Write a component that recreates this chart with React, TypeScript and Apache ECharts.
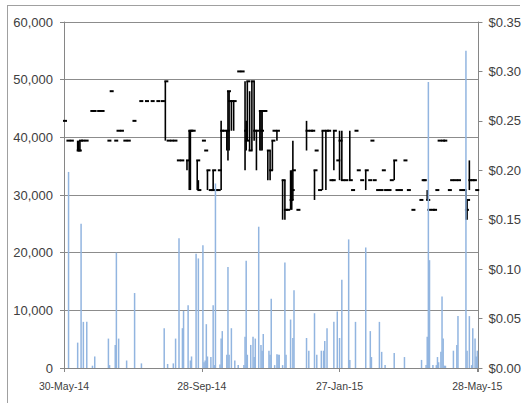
import React, { useEffect, useRef } from "react";
import * as echarts from "echarts";

// x tick labels (every 121 days from 30-May-14)
const xTickLabels = ["30-May-14", "28-Sep-14", "27-Jan-15", "28-May-15"];
const xTickStep = 121;
const xMaxDay = 364;

// Volume: [day offset from 30-May-14, shares]
const volume: [number, number][] = [
  [4, 34000], [12, 4400], [15, 25000], [17, 8000], [20, 8000], [25, 400], [27, 2000],
  [39, 5100], [40, 500], [45, 4000], [46, 20000], [48, 5100], [55, 1300], [62, 13000],
  [68, 800], [88, 6900], [91, 700], [96, 800], [98, 5100], [101, 22500], [104, 6900],
  [105, 9900], [109, 10900], [111, 1300], [112, 2000], [116, 19800], [118, 19000],
  [122, 21300], [123, 1000], [124, 1300], [125, 7600], [126, 2000], [129, 1900],
  [131, 10900], [132, 500], [133, 32000], [137, 600], [138, 5100], [139, 6400],
  [143, 2300], [144, 17500], [145, 2300], [147, 6900], [150, 1300], [153, 500],
  [158, 500], [159, 5400], [160, 18600], [161, 2300], [164, 4000], [166, 5400],
  [167, 1900], [168, 5100], [171, 24500], [173, 4000], [174, 3000], [175, 5900],
  [180, 3000], [181, 2300], [182, 12000], [185, 500], [187, 2400], [188, 2300],
  [189, 2300], [192, 500], [194, 18300], [195, 2300], [199, 8400], [201, 5200],
  [202, 13500], [213, 5200], [215, 3000], [220, 9500], [222, 2300], [226, 3000],
  [228, 3000], [229, 4700], [231, 6900], [237, 8000], [240, 9800], [242, 5200],
  [244, 15300], [250, 22300], [251, 1400], [256, 8000], [265, 20900], [269, 6400],
  [270, 1900], [277, 8000], [279, 2800], [282, 500], [290, 2600], [299, 1900],
  [314, 1400], [318, 500], [319, 5400], [320, 49600], [321, 18700], [324, 500],
  [327, 500], [328, 1900], [329, 1000], [331, 2800], [332, 12400], [333, 5100],
  [334, 400], [335, 400], [342, 3000], [345, 4000], [346, 9000], [353, 55000],
  [354, 3000], [356, 9000], [358, 500], [359, 6900], [361, 5100], [362, 2000],
  [363, 3000],
];

// Price: [day, high, low, close] in $
const priceHLC: [number, number, number, number][] = [
  [0, 0.25, 0.25, 0.25], [3, 0.23, 0.23, 0.23], [6, 0.23, 0.23, 0.23],
  [12, 0.23, 0.22, 0.22], [13, 0.23, 0.22, 0.22], [14, 0.23, 0.22, 0.23],
  [16, 0.23, 0.23, 0.23], [19, 0.23, 0.23, 0.23],
  [24, 0.26, 0.26, 0.26], [26, 0.26, 0.26, 0.26], [30, 0.26, 0.26, 0.26], [33, 0.26, 0.26, 0.26],
  [39, 0.23, 0.23, 0.23], [41, 0.28, 0.28, 0.28], [45, 0.23, 0.23, 0.23],
  [47, 0.24, 0.24, 0.24], [50, 0.24, 0.24, 0.24], [53, 0.23, 0.23, 0.23], [56, 0.23, 0.23, 0.23],
  [61, 0.25, 0.25, 0.25],
  [67, 0.27, 0.27, 0.27], [72, 0.27, 0.27, 0.27], [77, 0.27, 0.27, 0.27], [82, 0.27, 0.27, 0.27], [86, 0.27, 0.27, 0.27],
  [89, 0.29, 0.23, 0.29],
  [91, 0.23, 0.23, 0.23], [94, 0.23, 0.23, 0.23], [97, 0.23, 0.23, 0.23],
  [100, 0.21, 0.21, 0.21], [103, 0.21, 0.21, 0.21], [108, 0.21, 0.2, 0.21],
  [110, 0.24, 0.18, 0.24], [111, 0.24, 0.18, 0.24], [113, 0.24, 0.24, 0.24],
  [117, 0.21, 0.18, 0.21], [118, 0.19, 0.18, 0.18],
  [122, 0.23, 0.23, 0.23], [124, 0.22, 0.22, 0.22], [126, 0.2, 0.18, 0.2],
  [128, 0.18, 0.18, 0.18], [130, 0.18, 0.18, 0.18], [131, 0.2, 0.18, 0.2],
  [133, 0.18, 0.18, 0.18], [135, 0.18, 0.18, 0.18], [136, 0.2, 0.2, 0.2],
  [138, 0.25, 0.18, 0.24], [140, 0.24, 0.24, 0.24], [143, 0.24, 0.22, 0.24],
  [144, 0.28, 0.21, 0.28], [145, 0.28, 0.22, 0.27], [147, 0.27, 0.24, 0.27], [149, 0.27, 0.24, 0.27],
  [153, 0.3, 0.3, 0.3], [156, 0.3, 0.3, 0.3],
  [159, 0.29, 0.2, 0.24], [160, 0.25, 0.22, 0.23], [161, 0.29, 0.23, 0.29],
  [163, 0.28, 0.22, 0.22], [165, 0.29, 0.22, 0.29], [167, 0.29, 0.23, 0.24],
  [169, 0.24, 0.2, 0.24], [172, 0.26, 0.22, 0.26], [173, 0.26, 0.22, 0.24], [174, 0.26, 0.22, 0.26],
  [176, 0.26, 0.26, 0.26], [179, 0.22, 0.19, 0.22], [181, 0.22, 0.19, 0.2],
  [183, 0.23, 0.2, 0.23], [184, 0.24, 0.24, 0.24], [187, 0.24, 0.23, 0.24],
  [192, 0.19, 0.15, 0.19], [194, 0.19, 0.15, 0.16], [196, 0.16, 0.16, 0.16],
  [199, 0.2, 0.16, 0.17], [200, 0.2, 0.16, 0.18], [201, 0.23, 0.17, 0.2],
  [205, 0.16, 0.16, 0.16], [213, 0.25, 0.22, 0.24], [216, 0.24, 0.24, 0.24], [218, 0.24, 0.24, 0.24],
  [220, 0.2, 0.17, 0.2], [221, 0.22, 0.22, 0.22], [224, 0.18, 0.18, 0.18],
  [227, 0.24, 0.18, 0.24], [230, 0.24, 0.18, 0.24], [232, 0.24, 0.24, 0.24],
  [234, 0.19, 0.19, 0.19], [236, 0.19, 0.19, 0.19], [237, 0.24, 0.2, 0.24],
  [240, 0.21, 0.21, 0.21], [242, 0.24, 0.19, 0.23], [244, 0.24, 0.19, 0.19],
  [247, 0.19, 0.19, 0.19], [251, 0.24, 0.19, 0.19], [253, 0.18, 0.18, 0.18],
  [256, 0.24, 0.24, 0.24], [258, 0.2, 0.2, 0.2], [261, 0.19, 0.19, 0.19],
  [265, 0.2, 0.18, 0.2], [268, 0.19, 0.19, 0.19], [270, 0.23, 0.23, 0.23], [272, 0.19, 0.19, 0.19],
  [275, 0.18, 0.18, 0.18], [278, 0.18, 0.18, 0.18], [280, 0.2, 0.2, 0.2],
  [282, 0.18, 0.18, 0.18], [285, 0.18, 0.18, 0.18], [287, 0.19, 0.19, 0.19],
  [290, 0.21, 0.19, 0.21], [292, 0.18, 0.18, 0.18], [295, 0.18, 0.18, 0.18],
  [299, 0.21, 0.21, 0.21], [302, 0.18, 0.18, 0.18], [306, 0.16, 0.16, 0.16],
  [313, 0.17, 0.17, 0.17], [315, 0.19, 0.19, 0.19], [316, 0.19, 0.19, 0.19],
  [319, 0.18, 0.17, 0.17], [320, 0.16, 0.16, 0.16], [323, 0.16, 0.16, 0.16], [325, 0.16, 0.16, 0.16],
  [327, 0.18, 0.18, 0.18], [329, 0.23, 0.23, 0.23], [332, 0.23, 0.23, 0.23], [334, 0.23, 0.23, 0.23],
  [338, 0.18, 0.18, 0.18], [340, 0.19, 0.19, 0.19], [343, 0.19, 0.19, 0.19], [346, 0.19, 0.19, 0.19],
  [348, 0.18, 0.18, 0.18], [351, 0.18, 0.18, 0.18],
  [353, 0.18, 0.15, 0.16], [354, 0.17, 0.15, 0.17], [356, 0.21, 0.18, 0.19],
  [358, 0.19, 0.19, 0.19], [360, 0.19, 0.19, 0.19], [362, 0.18, 0.18, 0.18],
];

const FONT = "'Liberation Sans Narrow', 'Liberation Sans', Arial, sans-serif";
const TEXT = "#404040";
const AXIS = "#868686";

export default function App() {
  const ref = useRef<HTMLDivElement>(null);

  useEffect(() => {
    document.body.style.margin = "0";
    if (!ref.current) return;
    const chart = echarts.init(ref.current, null, { renderer: "svg" });
    chart.setOption({
      animation: false,
      backgroundColor: "#fff",
      grid: { left: 64, right: 44, top: 22, bottom: 35, containLabel: false },
      graphic: [
        { type: "line", shape: { x1: 7, y1: 5.5, x2: 520, y2: 5.5 }, style: { stroke: "#a0a0a0", lineWidth: 1 } },
        { type: "line", shape: { x1: 7.5, y1: 5, x2: 7.5, y2: 403 }, style: { stroke: "#a0a0a0", lineWidth: 1 } },
      ],
      xAxis: {
        type: "value",
        min: 0,
        max: xMaxDay,
        interval: xTickStep,
        splitLine: { show: false },
        axisLine: { show: true, lineStyle: { color: AXIS } },
        axisTick: { show: true, length: 4, lineStyle: { color: AXIS } },
        axisLabel: {
          margin: 12,
          fontFamily: FONT,
          fontSize: 10.5,
          color: TEXT,
          formatter: (v: number) => (v % xTickStep === 0 ? xTickLabels[v / xTickStep] ?? "" : ""),
        },
      },
      yAxis: [
        {
          type: "value",
          min: 0,
          max: 60000,
          interval: 10000,
          axisLine: { show: true, lineStyle: { color: AXIS } },
          axisTick: { show: true, length: 4, lineStyle: { color: AXIS } },
          splitLine: { show: true, lineStyle: { color: "#8c8c8c", width: 1 } },
          axisLabel: {
            margin: 11,
            fontFamily: FONT,
            fontSize: 13,
            color: TEXT,
            formatter: (v: number) => v.toLocaleString("en-US"),
          },
        },
        {
          type: "value",
          min: 0,
          max: 0.35,
          interval: 0.05,
          position: "right",
          axisLine: { show: true, lineStyle: { color: AXIS } },
          axisTick: { show: true, length: 4, lineStyle: { color: AXIS } },
          splitLine: { show: false },
          axisLabel: {
            margin: 10,
            fontFamily: FONT,
            fontSize: 13,
            color: TEXT,
            formatter: (v: number) => "$" + v.toFixed(2),
          },
        },
      ],
      series: [
        {
          type: "bar",
          name: "Volume",
          xAxisIndex: 0,
          yAxisIndex: 0,
          data: volume,
          barWidth: 1.5,
          itemStyle: { color: "#92b5e0" },
          silent: true,
        },
        {
          type: "custom",
          name: "Price",
          xAxisIndex: 0,
          yAxisIndex: 1,
          data: priceHLC,
          encode: { x: 0, y: [1, 2, 3] },
          silent: true,
          renderItem: (params: any, api: any) => {
            const d = api.value(0);
            const h = api.value(1);
            const l = api.value(2);
            const c = api.value(3);
            const top = api.coord([d, h]);
            const bot = api.coord([d, l]);
            const cl = api.coord([d, c]);
            const children: any[] = [];
            if (h > l) {
              children.push({
                type: "line",
                shape: { x1: top[0], y1: top[1], x2: bot[0], y2: bot[1] },
                style: { stroke: "#000", lineWidth: 1.6 },
              });
            }
            children.push({
              type: "rect",
              shape: { x: cl[0] - 1, y: cl[1] - 1, width: 4, height: 2 },
              style: { fill: "#000" },
            });
            return { type: "group", children };
          },
        },
      ],
    });
    return () => chart.dispose();
  }, []);

  return <div ref={ref} style={{ width: 524, height: 403 }} />;
}
